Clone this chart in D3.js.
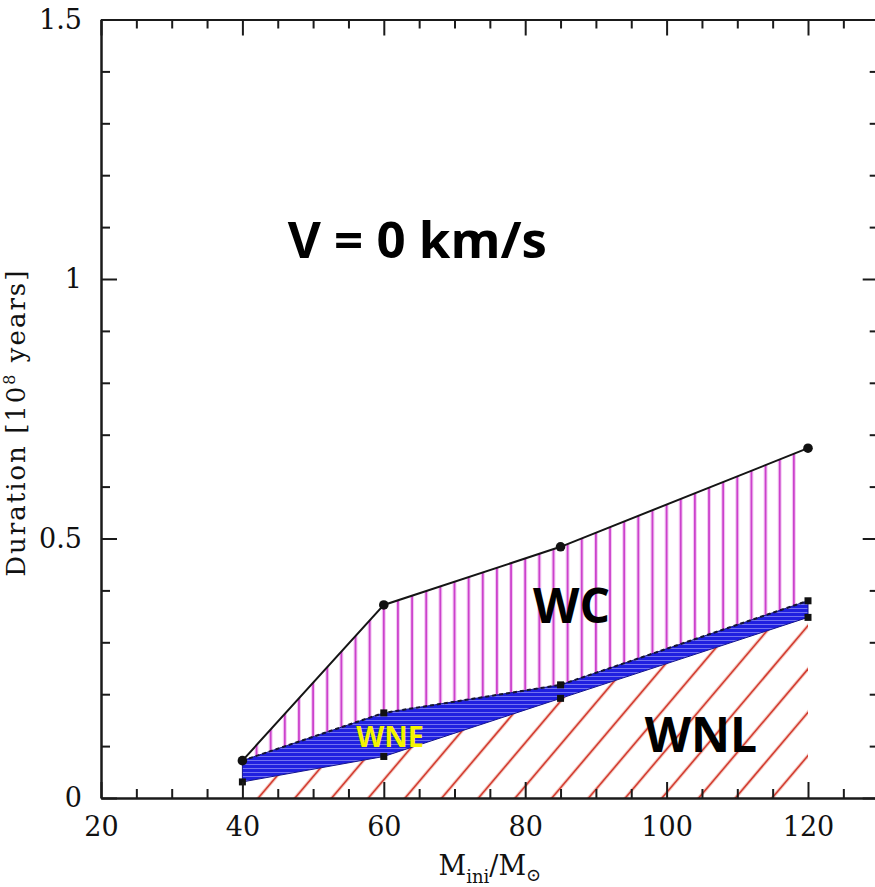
<!DOCTYPE html>
<html>
<head>
<meta charset="utf-8">
<script src="https://cdn.jsdelivr.net/npm/d3@7"></script>
<style>
  body { margin: 0; background: #fff; }
  svg { display: block; }
  .axis path, .axis line { stroke: #1a1a1a; stroke-width: 2; }
  .axis text { font-family: "DejaVu Serif", serif; font-size: 27px; fill: #111; }
</style>
</head>
<body>
<svg id="chart" width="875" height="887"></svg>
<script>
// Initial masses of the models (solar masses)
const masses = [40, 60, 85, 120];
// Cumulative durations of the Wolf-Rayet phases, in 10^6 years
const wcEnd  = [0.072, 0.372, 0.484, 0.674];  // WNL + WNE + WC
const wneEnd = [0.072, 0.164, 0.218, 0.380];  // WNL + WNE
const wnlEnd = [0.031, 0.080, 0.192, 0.348];  // WNL
// Axis ticks
const xTicks = [20, 40, 60, 80, 100, 120];
const yTicks = [0, 0.5, 1, 1.5];
const yTickLabels = ["0", "0.5", "1", "1.5"];

const rows = masses.map((m, i) => ({ m, wc: wcEnd[i], wne: wneEnd[i], wnl: wnlEnd[i] }));

const svg = d3.select("#chart");
const x = d3.scaleLinear().domain([20, 130]).range([101, 878.7]);
const y = d3.scaleLinear().domain([0, 1.5]).range([798, 19.5]);
const [x0, x1] = x.range();
const [yb, yt] = y.range();

const defs = svg.append("defs");

// Dense horizontal hatching for the WNE band
const pat = defs.append("pattern")
  .attr("id", "wneHatch").attr("patternUnits", "userSpaceOnUse")
  .attr("width", 10).attr("height", 4);
pat.append("rect").attr("width", 10).attr("height", 4).attr("fill", "#2020e0");
pat.append("line").attr("x1", 0).attr("x2", 10).attr("y1", 0.5).attr("y2", 0.5)
  .attr("stroke", "#7c7cf2").attr("stroke-width", 0.9);

// Region shapes
const wcArea = d3.area().x(d => x(d.m)).y0(d => y(d.wne)).y1(d => y(d.wc));
const wneArea = d3.area().x(d => x(d.m)).y0(d => y(d.wnl)).y1(d => y(d.wne));
const wnlArea = d3.area().x(d => x(d.m)).y0(() => y(0)).y1(d => y(d.wnl));

defs.append("clipPath").attr("id", "clipWC").append("path").attr("d", wcArea(rows));
defs.append("clipPath").attr("id", "clipWNL").append("path").attr("d", wnlArea(rows));

// WNL: red diagonal hatching
const gWNL = svg.append("g").attr("clip-path", "url(#clipWNL)");
const hatchStep = 36.7, hatchSlope = 1.18, hatchStart = 330;
const diag = d3.range(-20, 20).map(k => hatchStart + k * hatchStep);
const diagLen = 900;
gWNL.selectAll("line.halo").data(diag).join("line")
  .attr("class", "halo")
  .attr("x1", d => d).attr("y1", yb + 2)
  .attr("x2", d => d + diagLen).attr("y2", yb + 2 - hatchSlope * diagLen)
  .attr("stroke", "#f4c8c0").attr("stroke-width", 3.5);
gWNL.selectAll("line.core").data(diag).join("line")
  .attr("class", "core")
  .attr("x1", d => d).attr("y1", yb + 2)
  .attr("x2", d => d + diagLen).attr("y2", yb + 2 - hatchSlope * diagLen)
  .attr("stroke", "#d23a2e").attr("stroke-width", 1.5);

// WC: magenta vertical hatching
const gWC = svg.append("g").attr("clip-path", "url(#clipWC)");
const verts = d3.range(42, 119, 2);
gWC.selectAll("line.halo").data(verts).join("line")
  .attr("class", "halo")
  .attr("x1", d => x(d)).attr("x2", d => x(d)).attr("y1", yt).attr("y2", yb)
  .attr("stroke", "#f3c9f3").attr("stroke-width", 4);
gWC.selectAll("line.core").data(verts).join("line")
  .attr("class", "core")
  .attr("x1", d => x(d)).attr("x2", d => x(d)).attr("y1", yt).attr("y2", yb)
  .attr("stroke", "#cc42cc").attr("stroke-width", 1.8);

// WNE: blue band
svg.append("path").attr("d", wneArea(rows))
  .attr("fill", "url(#wneHatch)").attr("stroke", "#14148c").attr("stroke-width", 1);
svg.append("path")
  .attr("d", d3.line().x(d => x(d.m)).y(d => y(d.wne))(rows))
  .attr("fill", "none").attr("stroke", "#161630").attr("stroke-width", 2)
  .attr("stroke-dasharray", "4,3");

// End of the WC phase
svg.append("path")
  .attr("d", d3.line().x(d => x(d.m)).y(d => y(d.wc))(rows))
  .attr("fill", "none").attr("stroke", "#151515").attr("stroke-width", 2);

// Markers
const sq = 7;
svg.selectAll("rect.wnl").data(rows).join("rect").attr("class", "wnl")
  .attr("x", d => x(d.m) - sq / 2).attr("y", d => y(d.wnl) - sq / 2)
  .attr("width", sq).attr("height", sq).attr("fill", "#111");
svg.selectAll("rect.wne").data(rows).join("rect").attr("class", "wne")
  .attr("x", d => x(d.m) - sq / 2).attr("y", d => y(d.wne) - sq / 2)
  .attr("width", sq).attr("height", sq).attr("fill", "#111");
svg.selectAll("circle.wc").data(rows).join("circle").attr("class", "wc")
  .attr("cx", d => x(d.m)).attr("cy", d => y(d.wc)).attr("r", 4.8).attr("fill", "#111");

// Axes (ticks on all four sides, pointing inwards)
const minorX = d3.range(20, 131, 5).filter(v => !xTicks.includes(v));
const minorY = d3.range(0, 1.51, 0.1).map(v => +v.toFixed(2)).filter(v => !yTicks.includes(v));

function addAxis(axisFn, scale, transform, major, minor, labels) {
  const g = svg.append("g").attr("class", "axis").attr("transform", transform);
  g.call(axisFn(scale).tickValues(minor).tickSize(-9).tickSizeOuter(0).tickFormat(""));
  const gm = svg.append("g").attr("class", "axis").attr("transform", transform);
  const ax = axisFn(scale).tickValues(major).tickSize(-16).tickSizeOuter(0).tickPadding(19);
  ax.tickFormat(labels ? (d, i) => labels[i] : "");
  gm.call(ax);
  return gm;
}
addAxis(d3.axisBottom, x, `translate(0,${yb})`, xTicks, minorX, xTicks.map(String));
addAxis(d3.axisTop, x, `translate(0,${yt})`, xTicks, minorX, null);
addAxis(d3.axisLeft, y, `translate(${x0},0)`, yTicks, minorY, yTickLabels);
addAxis(d3.axisRight, y, `translate(${x1},0)`, yTicks, minorY, null);

// Axis titles
const xt = svg.append("text")
  .attr("x", (x0 + x1) / 2).attr("y", 875).attr("text-anchor", "middle")
  .attr("font-family", "DejaVu Serif, serif").attr("font-size", 27).attr("fill", "#111");
xt.append("tspan").text("M");
xt.append("tspan").attr("font-size", 18).attr("dy", 8).text("ini");
xt.append("tspan").attr("dy", -8).text("/M");
xt.append("tspan").attr("font-size", 18).attr("dy", 6).text("\u2299");

const yl = svg.append("text")
  .attr("transform", `translate(25,${(yb + yt) / 2 + 14}) rotate(-90)`)
  .attr("text-anchor", "middle")
  .attr("font-family", "DejaVu Serif, serif").attr("font-size", 26)
  .attr("letter-spacing", 2).attr("fill", "#111");
yl.append("tspan").text("Duration [10");
yl.append("tspan").attr("font-size", 16).attr("dy", -10).text("8");
yl.append("tspan").attr("dy", 10).text(" years]");

// Annotations
const sans = "Open Sans, DejaVu Sans, sans-serif";
svg.append("text").attr("x", x(46.4)).attr("y", y(1.04))
  .attr("font-family", sans).attr("font-weight", 700).attr("font-size", 51)
  .attr("fill", "#000").text("V = 0 km/s");
svg.append("text").attr("x", x(81.1)).attr("y", y(0.337))
  .attr("font-family", sans).attr("font-weight", 700).attr("font-size", 48)
  .attr("fill", "#000").text("WC");
svg.append("text").attr("x", x(96.9)).attr("y", y(0.089))
  .attr("font-family", sans).attr("font-weight", 700).attr("font-size", 48)
  .attr("fill", "#000").text("WNL");
svg.append("text").attr("x", x(56.1)).attr("y", y(0.099))
  .attr("font-family", sans).attr("font-weight", 700).attr("font-size", 29)
  .attr("fill", "#f4f400").text("WNE");
</script>
</body>
</html>
